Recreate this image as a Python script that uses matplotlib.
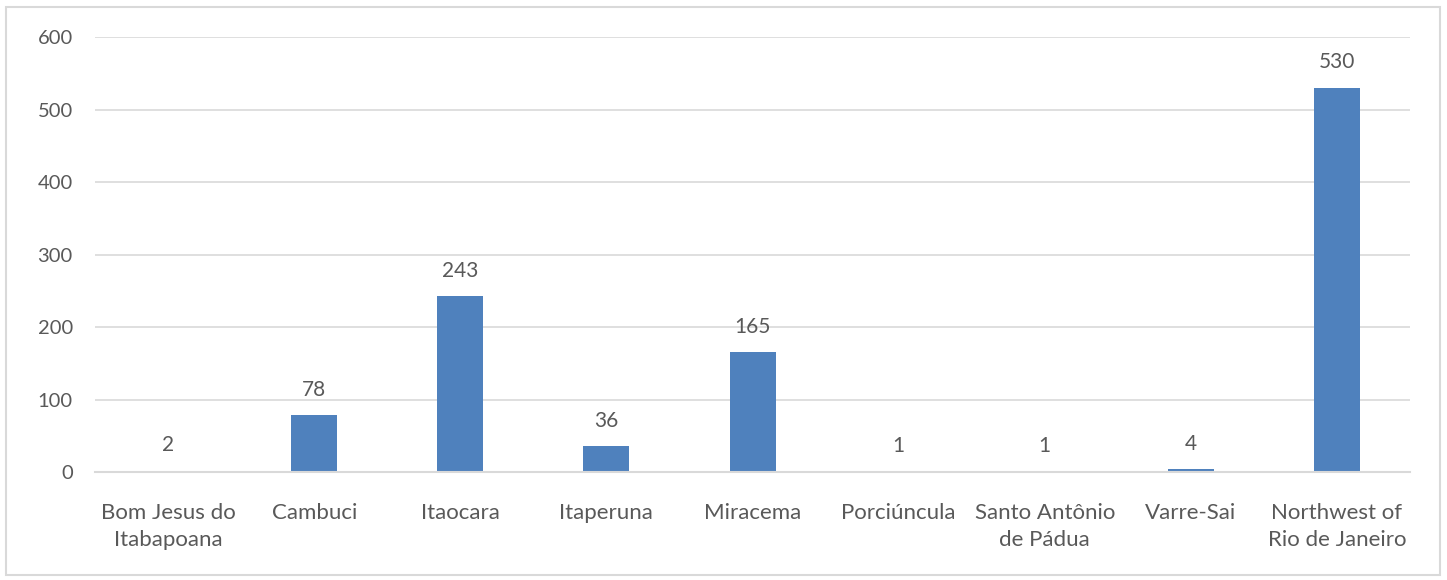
import matplotlib.pyplot as plt
import matplotlib.patches as mpatches
import numpy as np

plt.rcParams['font.family'] = ['Lato', 'DejaVu Sans']

categories = ['Bom Jesus do\nItabapoana', 'Cambuci', 'Itaocara', 'Itaperuna', 'Miracema',
              'Porciúncula', 'Santo Antônio\nde Pádua', 'Varre-Sai', 'Northwest of\nRio de Janeiro']
values = [2, 78, 243, 36, 165, 1, 1, 4, 530]
yticks = [0, 100, 200, 300, 400, 500, 600]

text_color = '#595959'
grid_color = '#d9d9d9'
bar_color = '#4f81bd'

fig = plt.figure(figsize=(14.47, 5.8), dpi=100)
ax = fig.add_axes([0.0657, 0.1862, 0.9087, 0.75])

# outer chart border
fig.patches.append(mpatches.Rectangle((0.004, 0.008), 0.991, 0.98, transform=fig.transFigure,
                                      fill=False, edgecolor=grid_color, linewidth=1.5))

x = np.arange(len(categories))
bars = ax.bar(x, values, width=0.315, color=bar_color, zorder=3)

for xi, v in zip(x, values):
    ax.annotate(str(v), (xi, v), xytext=(0, 11), textcoords='offset points',
                ha='center', va='bottom', fontsize=15, color=text_color)

ax.set_xlim(-0.5, len(categories) - 0.5)
ax.set_ylim(0, 600)
ax.set_yticks(yticks)
ax.set_xticks(x)
ax.set_xticklabels(categories, fontsize=16, color=text_color, linespacing=1.45)
ax.tick_params(axis='y', labelsize=14.5, labelcolor=text_color, length=0, pad=16)
ax.tick_params(axis='x', length=0, pad=22)
ax.grid(axis='y', color=grid_color, linewidth=1.2, zorder=0)
for s in ['top', 'right', 'left']:
    ax.spines[s].set_visible(False)
ax.spines['bottom'].set_color(grid_color)
ax.spines['bottom'].set_linewidth(1.5)
ax.spines['bottom'].set_zorder(4)

fig.savefig('out.png', dpi=100)
